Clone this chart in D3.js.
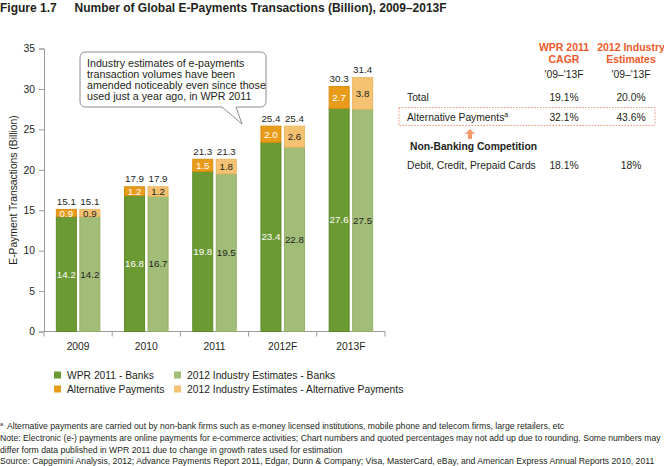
<!DOCTYPE html>
<html>
<head>
<meta charset="utf-8">
<script src="https://cdn.jsdelivr.net/npm/d3@7/dist/d3.min.js"></script>
<style>
  html, body { margin: 0; padding: 0; background: #fff; }
  svg { display: block; font-family: "Liberation Sans", Arial, Helvetica, sans-serif; }
</style>
</head>
<body>
<svg id="chart" width="664" height="466"></svg>
<script>
// ---------- DATA ----------
const years = ["2009", "2010", "2011", "2012F", "2013F"];
const wprBanks = [14.2, 16.8, 19.8, 23.4, 27.6];
const wprAlt = [0.9, 1.2, 1.5, 2.0, 2.7];
const wprTotal = [15.1, 17.9, 21.3, 25.4, 30.3];
const estBanks = [14.2, 16.7, 19.5, 22.8, 27.5];
const estAlt = [0.9, 1.2, 1.8, 2.6, 3.8];
const estTotal = [15.1, 17.9, 21.3, 25.4, 31.4];
const yTicks = [0, 5, 10, 15, 20, 25, 30, 35];

const legendLabels = ["WPR 2011 - Banks", "2012 Industry Estimates - Banks", "Alternative Payments", "2012 Industry Estimates - Alternative Payments"];

const tableHeaders = [["WPR 2011", "CAGR"], ["2012 Industry", "Estimates"]];
const tablePeriods = ["'09\u2013'13F", "'09\u2013'13F"];
const tableRows = ["Total", "Alternative Payments", "Debit, Credit, Prepaid Cards"];
const tableWpr = ["19.1%", "32.1%", "18.1%"];
const tableEst = ["20.0%", "43.6%", "18%"];

const calloutLines = [
  "Industry estimates of e-payments",
  "transaction volumes have been",
  "amended noticeably even since those",
  "used just a year ago, in WPR 2011"
];
const footnotes = [
  "Alternative payments are carried out by non-bank firms such as e-money licensed institutions, mobile phone and telecom firms, large retailers, etc",
  "Note: Electronic (e-) payments are online payments for e-commerce activities; Chart numbers and quoted percentages may not add up due to rounding. Some numbers may",
  "differ form data published in WPR 2011 due to change in growth rates used for estimation",
  "Source: Capgemini Analysis, 2012; Advance Payments Report 2011, Edgar, Dunn & Company; Visa, MasterCard, eBay, and American Express Annual Reports 2010, 2011"
];

// ---------- STYLE ----------
const C = {
  wprBank: "#6b9932", wprBankStroke: "#5d8a28",
  estBank: "#a2bd78", estBankStroke: "#93b069",
  wprAlt: "#e89c1a", wprAltStroke: "#d98e10",
  estAlt: "#f5c271", estAltStroke: "#ecb562",
  axis: "#9a9a9a", text: "#231f20", red: "#ee5a2b"
};

const svg = d3.select("#chart");

// Title
svg.append("text").attr("x", 0).attr("y", 12).attr("font-size", 12).attr("font-weight", "bold")
  .attr("fill", C.text).text("Figure 1.7");
svg.append("text").attr("x", 74.5).attr("y", 12).attr("font-size", 12).attr("font-weight", "bold")
  .attr("fill", C.text).text("Number of Global E-Payments Transactions (Billion), 2009\u20132013F");

// Scales
const x0 = d3.scaleBand().domain(years).range([44, 385]).paddingInner(0).paddingOuter(0);
const y = d3.scaleLinear().domain([0, 35]).range([331.5, 48.5]);
const barW = 21, gap = 2.5;

// Axes
const yAxis = d3.axisLeft(y).tickValues(yTicks).tickSize(5).tickPadding(4);
const gy = svg.append("g").attr("transform", "translate(44,0)").call(yAxis);
gy.select(".domain").attr("stroke", C.axis);
gy.selectAll(".tick line").attr("stroke", C.axis);
gy.selectAll(".tick text").attr("font-size", 10.3).attr("fill", C.text).attr("font-family", "Liberation Sans, Arial, sans-serif");

// x axis: line with ticks at band boundaries
const gx = svg.append("g").attr("transform", "translate(0,331.5)");
gx.append("line").attr("x1", 44).attr("x2", 385).attr("y1", 0).attr("y2", 0).attr("stroke", C.axis);
const bounds = years.map(d => x0(d)).concat([x0.range()[1]]);
gx.selectAll("line.tk").data(bounds).enter().append("line").attr("class", "tk")
  .attr("x1", d => d).attr("x2", d => d).attr("y1", 0).attr("y2", 5).attr("stroke", C.axis);
gx.selectAll("text").data(years).enter().append("text")
  .attr("x", d => x0(d) + x0.bandwidth() / 2).attr("y", 18)
  .attr("text-anchor", "middle").attr("font-size", 10.3).attr("fill", C.text).text(d => d);

// Y axis title
svg.append("text").attr("transform", "translate(17,190) rotate(-90)")
  .attr("text-anchor", "middle").attr("font-size", 10.3).attr("fill", C.text)
  .text("E-Payment Transactions (Billion)");

// Bars
const series = [
  { banks: wprBanks, alt: wprAlt, total: wprTotal, off: 0,
    bf: C.wprBank, bs: C.wprBankStroke, af: C.wprAlt, as: C.wprAltStroke, bt: "#fff", at: "#fff" },
  { banks: estBanks, alt: estAlt, total: estTotal, off: 1,
    bf: C.estBank, bs: C.estBankStroke, af: C.estAlt, as: C.estAltStroke, bt: C.text, at: C.text }
];
const pairW = barW * 2 + gap;
series.forEach(s => {
  const g = svg.append("g");
  years.forEach((yr, i) => {
    const bx = x0(yr) + (x0.bandwidth() - pairW) / 2 + s.off * (barW + gap);
    const b = s.banks[i], a = s.alt[i], t = s.total[i];
    g.append("rect").attr("x", bx + 0.5).attr("y", y(b)).attr("width", barW - 1).attr("height", y(0) - y(b))
      .attr("fill", s.bf).attr("stroke", s.bs).attr("stroke-width", 1);
    g.append("rect").attr("x", bx + 0.5).attr("y", y(t)).attr("width", barW - 1).attr("height", y(b) - y(t))
      .attr("fill", s.af).attr("stroke", s.as).attr("stroke-width", 1);
    g.append("text").attr("x", bx + barW / 2).attr("y", y(b / 2) + 3.5).attr("text-anchor", "middle")
      .attr("font-size", 9.8).attr("fill", s.bt).text(b.toFixed(1));
    g.append("text").attr("x", bx + barW / 2).attr("y", (y(b) + y(t)) / 2 + 3.5).attr("text-anchor", "middle")
      .attr("font-size", 9.8).attr("fill", s.at).text(a.toFixed(1));
    g.append("text").attr("x", bx + barW / 2).attr("y", y(t) - 4.5).attr("text-anchor", "middle")
      .attr("font-size", 9.8).attr("fill", C.text).text(t.toFixed(1));
  });
});

// Callout
const cb = svg.append("g");
const bx0 = 80, by0 = 52, bx1 = 266, by1 = 107, r = 6;
const p1 = 222, p2 = 236, tipX = 242, tipY = 124;
const path = `M${bx0 + r},${by0} H${bx1 - r} Q${bx1},${by0} ${bx1},${by0 + r} V${by1 - r} Q${bx1},${by1} ${bx1 - r},${by1}
  H${p2} L${tipX},${tipY} L${p1},${by1} H${bx0 + r} Q${bx0},${by1} ${bx0},${by1 - r} V${by0 + r} Q${bx0},${by0} ${bx0 + r},${by0} Z`;
cb.append("path").attr("d", path).attr("fill", "#fff").attr("stroke", "#8c8c8c").attr("stroke-width", 1);
cb.selectAll("text").data(calloutLines).enter().append("text")
  .attr("x", 87).attr("y", (d, i) => 66.5 + i * 11).attr("font-size", 10.7).attr("fill", C.text).text(d => d);

// Legend
const legColors = [C.wprBank, C.estBank, C.wprAlt, C.estAlt];
const leg = svg.append("g");
legendLabels.forEach((lab, i) => {
  const col = i % 2, row = Math.floor(i / 2);
  const lx = col === 0 ? 54 : 174, ly = 375 + row * 14;
  leg.append("rect").attr("x", lx).attr("y", ly - 3.5).attr("width", 7).attr("height", 7).attr("fill", legColors[i]);
  leg.append("text").attr("x", lx + 13).attr("y", ly + 3.7).attr("font-size", 10.3).attr("fill", C.text).text(lab);
});

// Right table
const tb = svg.append("g");
const colX = [564, 631];
tableHeaders.forEach((h, i) => {
  h.forEach((line, j) => {
    tb.append("text").attr("x", colX[i]).attr("y", 51 + j * 12).attr("text-anchor", "middle")
      .attr("font-size", 10.5).attr("font-weight", "bold").attr("fill", C.red).text(line);
  });
  tb.append("text").attr("x", colX[i]).attr("y", 78).attr("text-anchor", "middle")
    .attr("font-size", 10.3).attr("fill", C.text).text(tablePeriods[i]);
});
const rowY = [100.5, 121, 168.5];
tableRows.forEach((lab, i) => {
  const t = tb.append("text").attr("x", 407).attr("y", rowY[i]).attr("font-size", 10.3).attr("fill", C.text).text(lab);
  if (i === 1) t.append("tspan").attr("dy", -4).attr("font-size", 7).text("a");
  tb.append("text").attr("x", colX[0]).attr("y", rowY[i]).attr("text-anchor", "middle").attr("font-size", 10.3).attr("fill", C.text).text(tableWpr[i]);
  tb.append("text").attr("x", colX[1]).attr("y", rowY[i]).attr("text-anchor", "middle").attr("font-size", 10.3).attr("fill", C.text).text(tableEst[i]);
});
tb.append("rect").attr("x", 399).attr("y", 107.5).attr("width", 256).attr("height", 18)
  .attr("fill", "none").attr("stroke", "#f0957a").attr("stroke-width", 1).attr("stroke-dasharray", "1.5,1.5");
// up arrow
tb.append("path").attr("d", "M470,129 L475,134 L472,134 L472,139 L468,139 L468,134 L465,134 Z").attr("fill", "#f59a6e");
tb.append("text").attr("x", 410).attr("y", 149.5).attr("font-size", 10.3).attr("font-weight", "bold")
  .attr("fill", C.text).text("Non-Banking Competition");

// Footnotes: size chosen so the long "Note" line spans the page width
const fnY = [429, 441, 452.5, 464];
const fg = svg.append("g");
fg.append("text").attr("x", 0).attr("y", fnY[0] - 3).attr("font-size", 5.5).attr("fill", C.text).text("a");
const fnTexts = footnotes.map((f, i) => fg.append("text").attr("x", i === 0 ? 7 : 0).attr("y", fnY[i])
  .attr("font-size", 8).attr("fill", C.text).text(f));
const noteLen = fnTexts[1].node().getComputedTextLength();
const fs = 8 * 661 / noteLen;
fnTexts.forEach(t => t.attr("font-size", fs));
</script>
</body>
</html>
